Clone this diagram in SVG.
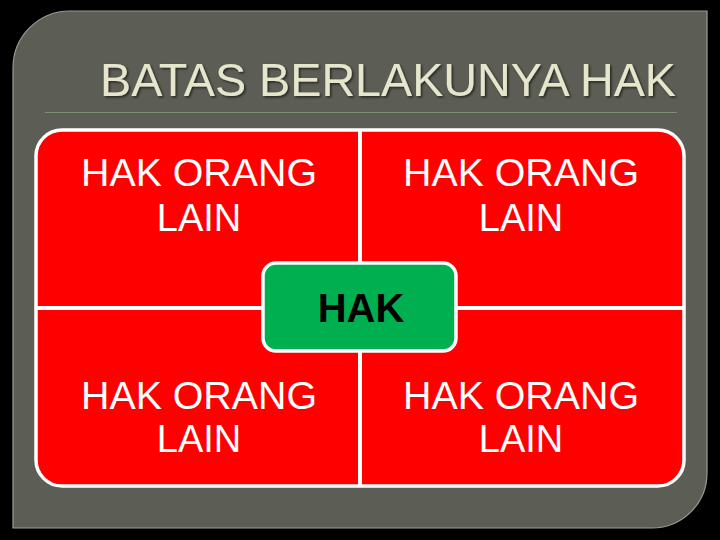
<svg xmlns="http://www.w3.org/2000/svg" width="720" height="540" viewBox="0 0 720 540">
<defs>
<filter id="sh" x="-5%" y="-20%" width="110%" height="140%">
<feDropShadow dx="1.5" dy="1.5" stdDeviation="0.8" flood-color="#000" flood-opacity="0.6"/>
</filter>
</defs>
<style>
.q{font-family:"Liberation Sans",Arial,sans-serif;font-size:38px;fill:#ffffff;text-anchor:middle}
.t{font-family:"Liberation Sans",Arial,sans-serif;font-size:46px;fill:#e6e6cc;text-anchor:start}
.c{font-family:"Liberation Sans",Arial,sans-serif;font-size:40px;font-weight:bold;fill:#000;text-anchor:middle}
.div{stroke:#ffffff;stroke-width:4}
</style>
<rect x="0" y="0" width="720" height="540" fill="#000"/>
<g id="panel">
<path d="M70,11 H707 V473 A55,55 0 0 1 652,528 H13 V68 A57,57 0 0 1 70,11 Z" fill="#5c5d55" stroke="#9a9b90" stroke-width="1.2"/>
</g>
<g id="title">
<text class="t" x="100" y="96" textLength="576" lengthAdjust="spacingAndGlyphs" filter="url(#sh)">BATAS BERLAKUNYA HAK</text>
<line x1="45" y1="112.5" x2="677" y2="112.5" stroke="#7d8d74" stroke-width="1.2"/>
</g>
<g id="box">
<rect x="36" y="130" width="648" height="356" rx="26" ry="26" fill="#ff0000" stroke="#ffffff" stroke-width="3.5"/>
</g>
<g id="connectors">
<line class="div" x1="360" y1="131" x2="360" y2="485"/>
<line class="div" x1="37" y1="308" x2="683" y2="308"/>
</g>
<g id="q-top-left"><text class="q" x="199" y="186" textLength="236" lengthAdjust="spacingAndGlyphs">HAK ORANG</text><text class="q" x="199" y="231">LAIN</text></g>
<g id="q-top-right"><text class="q" x="521" y="186" textLength="236" lengthAdjust="spacingAndGlyphs">HAK ORANG</text><text class="q" x="521" y="231">LAIN</text></g>
<g id="q-bottom-left"><text class="q" x="199" y="409" textLength="236" lengthAdjust="spacingAndGlyphs">HAK ORANG</text><text class="q" x="199" y="452">LAIN</text></g>
<g id="q-bottom-right"><text class="q" x="521" y="409" textLength="236" lengthAdjust="spacingAndGlyphs">HAK ORANG</text><text class="q" x="521" y="452">LAIN</text></g>
<g id="center">
<rect x="263" y="263" width="193" height="88" rx="13" ry="13" fill="#00b050" stroke="#ffffff" stroke-width="3.5"/>
<text class="c" x="361" y="322">HAK</text>
</g>
</svg>
